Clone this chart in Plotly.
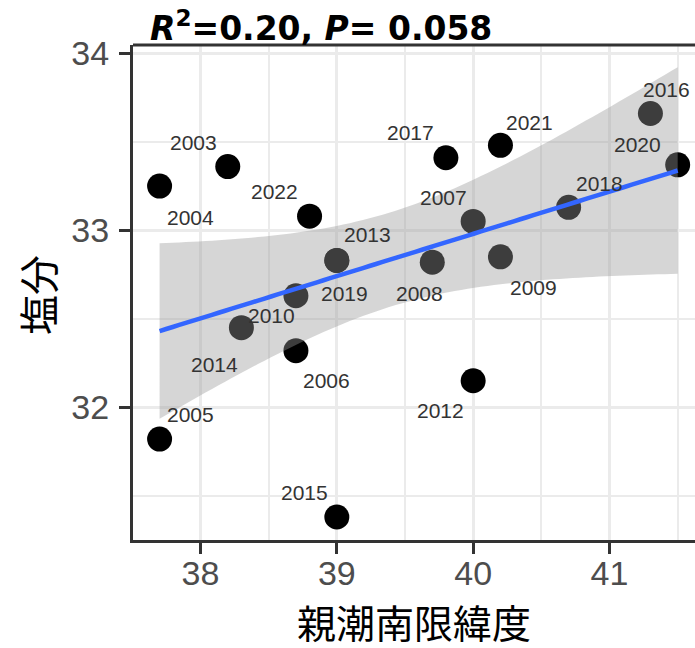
import numpy as np
import plotly.graph_objects as go

# Salinity vs. southern-limit latitude of the Oyashio, by year
years = [2003, 2004, 2005, 2006, 2007, 2008, 2009, 2010, 2012, 2013,
         2014, 2015, 2016, 2017, 2018, 2019, 2020, 2021, 2022]
latitude = [38.2, 37.7, 37.7, 38.7, 40.0, 39.7, 40.2, 38.7, 40.0, 39.0,
            38.3, 39.0, 41.3, 39.8, 40.7, 39.0, 41.5, 40.2, 38.8]
salinity = [33.36, 33.25, 31.82, 32.32, 33.05, 32.82, 32.85, 32.63, 32.15, 32.83,
            32.45, 31.38, 33.66, 33.41, 33.13, 32.83, 33.37, 33.48, 33.08]

# repelled label offsets (pixels) from each point
label_dx = [-34, 31, 31, 31, -30, -13, 33, -24, -33, 31,
            -27, -32, 16, -35, 31, 8, -40, 29, -35]
label_dy = [24, -31, 25, -30, 24, -31, -31, -20, -30, 26,
            -37, 24, 24, 25, 24, -33, 20, 23, 25]

title_html = "<b><i>R</i><sup>2</sup>=0.20, <i>P</i>= 0.058</b>"
x_title = "親潮南限緯度"
y_title = "塩分"

X_RANGE = [37.505, 41.627]
Y_RANGE = [31.25, 34.047]

# linear fit with 95% confidence band
x = np.array(latitude)
y = np.array(salinity)
n = len(x)
slope, intercept = np.polyfit(x, y, 1)
resid = y - (slope * x + intercept)
s = np.sqrt(np.sum(resid ** 2) / (n - 2))
sxx = np.sum((x - x.mean()) ** 2)
t_crit = 2.1098  # t(0.975, df=17)
xs = np.linspace(x.min(), x.max(), 80)
fit = slope * xs + intercept
se = s * np.sqrt(1 / n + (xs - x.mean()) ** 2 / sxx)
upper = fit + t_crit * se
lower = fit - t_crit * se


def svg_path(px, py, close=False):
    pts = " L".join(f"{a:.5f},{b:.5f}" for a, b in zip(px, py))
    return "M" + pts + (" Z" if close else "")


fig = go.Figure()
fig.add_trace(go.Scatter(
    x=latitude, y=salinity, mode="markers",
    marker=dict(size=25, color="black"), hoverinfo="skip", showlegend=False))

# confidence band and fit line, painted above the points on the data axes
fig.add_shape(type="path", xref="x", yref="y", layer="above",
              path=svg_path(np.concatenate([xs, xs[::-1]]),
                            np.concatenate([upper, lower[::-1]]), close=True),
              fillcolor="rgba(153,153,153,0.4)", line=dict(width=0))
fig.add_shape(type="path", xref="x", yref="y", layer="above",
              path=svg_path(xs, fit),
              line=dict(color="#3366FF", width=4.5))

for yr, lx, ly, dx, dy in zip(years, latitude, salinity, label_dx, label_dy):
    fig.add_annotation(x=lx, y=ly, text=str(yr), showarrow=False,
                       xshift=dx, yshift=dy,
                       font=dict(family="Liberation Sans", size=21, color="#333333"))

fig.add_annotation(xref="paper", yref="paper", x=0.027, y=1.0364, xanchor="left",
                   yanchor="middle", text=title_html, showarrow=False,
                   font=dict(family="DejaVu Sans", size=33, color="black"))
fig.add_annotation(xref="paper", yref="paper", x=0.5, y=-0.164,
                   xanchor="center", yanchor="middle", text=x_title, showarrow=False,
                   font=dict(family="Noto Sans CJK JP", size=39, color="black"))
fig.add_annotation(xref="paper", yref="paper", x=-0.1708, y=0.495,
                   xanchor="center", yanchor="middle", text=y_title, showarrow=False,
                   textangle=-90,
                   font=dict(family="Noto Sans CJK JP", size=40, color="black"))

grid = "#ebebeb"
axis_common = dict(
    showline=True, linecolor="#333333", linewidth=3,
    ticks="outside", ticklen=11, tickwidth=3, tickcolor="#333333",
    tickfont=dict(family="Liberation Sans", size=34, color="#4d4d4d"),
    showgrid=True, gridcolor=grid, gridwidth=2.5, zeroline=False,
)

fig.update_layout(
    width=695, height=648,
    margin=dict(l=133, r=0, t=45, b=108),
    paper_bgcolor="white", plot_bgcolor="white",
    xaxis=dict(range=X_RANGE, dtick=1, tick0=38, ticklabelstandoff=-10,
               minor=dict(dtick=0.5, showgrid=True, gridcolor=grid, gridwidth=2),
               **axis_common),
    yaxis=dict(range=Y_RANGE, dtick=1, tick0=32, ticklabelstandoff=3,
               minor=dict(dtick=0.5, showgrid=True, gridcolor=grid, gridwidth=2),
               **axis_common),
)

# top border of the panel
fig.add_shape(type="line", xref="paper", yref="paper", x0=0, x1=1, y0=1, y1=1,
              line=dict(color="#333333", width=3))

fig.write_html("out.html")
